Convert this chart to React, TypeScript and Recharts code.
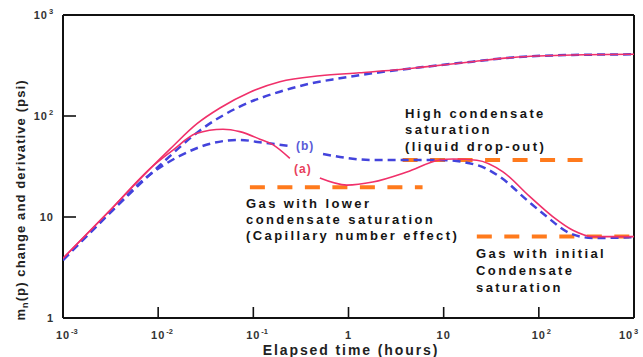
import { LineChart, Line, XAxis, YAxis, ReferenceLine } from "recharts";

// pressure change curves
const redChangeT = [0.001, 0.003, 0.0082, 0.0133, 0.0256, 0.0446, 0.092, 0.19, 0.5, 1.3, 3, 6, 20, 53, 228, 1000];
const redChangeV = [3.9, 11.2, 30, 47, 84, 120, 172, 218, 250, 268, 285, 305, 345, 380, 402, 408];
const blueChangeT = [0.001, 0.003, 0.0105, 0.0275, 0.072, 0.19, 0.4, 0.81, 1.8, 6, 20, 53, 228, 1000];
const blueChangeV = [3.75, 10.6, 32.7, 72, 124, 174, 210, 236, 265, 305, 345, 380, 402, 408];

// derivative curves (null = gap for the (a)/(b) labels)
const redDerivT = [0.001, 0.003, 0.0088, 0.0143, 0.025, 0.048, 0.072, 0.117, 0.16, 0.242, 0.35, 0.5, 0.96, 1.8, 4.1, 9.1, 12.5, 22.3, 42, 80, 140, 228, 369, 1000];
const redDerivV = [3.9, 11.2, 32, 46, 67, 74, 70, 59, 52, 38, null, 24.3, 20.7, 22.2, 27.9, 36.7, 37.5, 36.5, 28, 16, 10.1, 7.4, 6.4, 6.4];
const blueDerivT = [0.001, 0.003, 0.0076, 0.0158, 0.0377, 0.072, 0.117, 0.242, 0.37, 0.54, 1.8, 9.1, 22.3, 39, 75, 121, 212, 369, 1000];
const blueDerivV = [3.75, 10.6, 24.9, 39, 54, 58, 55, 50.5, null, 42, 36.7, 36.7, 32.7, 25, 14.7, 10.1, 6.9, 6.2, 6.3];

// orange saturation levels
const lowerSatT = [0.092, 6.0];
const lowerSatV = [19.7, 19.7];
const highSatT = [3.7, 319];
const highSatV = [36.7, 36.7];
const initialSatT = [22.3, 1000];
const initialSatV = [6.4, 6.4];

const xTicks = [0.001, 0.01, 0.1, 1, 10, 100, 1000];
const xTickLabels = [["10", "-3"], ["10", "-2"], ["10", "-1"], ["1", ""], ["10", ""], ["10", "2"], ["10", "3"]];
const yTicks = [1, 10, 100, 1000];
const yTickLabels = [["1", ""], ["10", ""], ["10", "2"], ["10", "3"]];

const zip = (ts: number[], vs: (number | null)[]) => ts.map((t, i) => ({ t, v: vs[i] }));

// plot box (matches the chart margins / axis sizes below)
const W = 643;
const H = 357;
const PLOT = { left: 63, right: 634, top: 15, bottom: 318 };
const px = (t: number) => PLOT.left + ((Math.log10(t) + 3) / 6) * (PLOT.right - PLOT.left);
const py = (v: number) => PLOT.bottom - (Math.log10(v) / 3) * (PLOT.bottom - PLOT.top);

const FONT = "'Liberation Sans', Arial, sans-serif";
const RED = "#f0306a";
const BLUE = "#4343dc";
const ORANGE = "#ff7a1c";
const FRAME = "#111";

function XTick(props: any) {
  const { x, y, payload } = props;
  const i = xTicks.indexOf(payload.value);
  const [base, sup] = xTickLabels[i] || [String(payload.value), ""];
  // the last label is pulled in so it stays on the page
  const cx = i === xTicks.length - 1 ? x - 8 : x;
  return (
    <g>
      <text x={cx} y={y + 21} textAnchor="middle" fontSize={11} fontWeight="bold" fill="#333" fontFamily={FONT} letterSpacing={1}>
        {base}
      </text>
      {sup && (
        <text x={cx + 8} y={y + 16} fontSize={7.5} fontWeight="bold" fill="#333" fontFamily={FONT}>
          {sup}
        </text>
      )}
    </g>
  );
}

function YTick(props: any) {
  const { x, y, payload } = props;
  const i = yTicks.indexOf(payload.value);
  const [base, sup] = yTickLabels[i] || [String(payload.value), ""];
  return (
    <g>
      <text x={sup ? x - 15 : x - 9} y={y + 4} textAnchor="end" fontSize={11} fontWeight="bold" fill="#333" fontFamily={FONT} letterSpacing={1}>
        {base}
      </text>
      {sup && (
        <text x={x - 14} y={y - 1} fontSize={7.5} fontWeight="bold" fill="#333" fontFamily={FONT}>
          {sup}
        </text>
      )}
    </g>
  );
}

const noteStyle = { fontSize: 13, fontWeight: "bold" as const, fill: "#151515", fontFamily: FONT, letterSpacing: 2.4 };

export default function App() {
  return (
    <div style={{ position: "absolute", left: 0, top: 0, width: W, height: H, background: "#fff" }}>
      <LineChart width={W} height={H} margin={{ top: PLOT.top, right: W - PLOT.right, bottom: 0, left: 0 }}>
        <XAxis
          dataKey="t"
          type="number"
          scale="log"
          domain={[0.001, 1000]}
          allowDataOverflow
          ticks={xTicks}
          interval={0}
          tick={<XTick />}
          tickLine={false}
          axisLine={false}
          tickSize={0}
          tickMargin={0}
          height={H - PLOT.bottom}
        />
        <YAxis
          dataKey="v"
          type="number"
          scale="log"
          domain={[1, 1000]}
          allowDataOverflow
          ticks={yTicks}
          interval={0}
          tick={<YTick />}
          tickLine={false}
          axisLine={false}
          tickSize={0}
          tickMargin={0}
          width={PLOT.left}
        />
        {/* frame */}
        <ReferenceLine x={0.001} stroke={FRAME} strokeWidth={2} ifOverflow="visible" />
        <ReferenceLine x={1000} stroke={FRAME} strokeWidth={2} ifOverflow="visible" />
        <ReferenceLine y={1} stroke={FRAME} strokeWidth={2} ifOverflow="visible" />
        <ReferenceLine y={1000} stroke={FRAME} strokeWidth={2} ifOverflow="visible" />
        <Line data={zip(lowerSatT, lowerSatV)} dataKey="v" stroke={ORANGE} strokeWidth={4} strokeDasharray="15 12.5" dot={false} isAnimationActive={false} />
        <Line data={zip(highSatT, highSatV)} dataKey="v" stroke={ORANGE} strokeWidth={4} strokeDasharray="15 12.5" dot={false} isAnimationActive={false} />
        <Line data={zip(initialSatT, initialSatV)} dataKey="v" stroke={ORANGE} strokeWidth={4} strokeDasharray="15 12.5" dot={false} isAnimationActive={false} />
        <Line data={zip(blueChangeT, blueChangeV)} dataKey="v" type="monotone" stroke={BLUE} strokeWidth={2.5} strokeDasharray="8 5" dot={false} isAnimationActive={false} />
        <Line data={zip(blueDerivT, blueDerivV)} dataKey="v" type="monotone" stroke={BLUE} strokeWidth={2.5} strokeDasharray="8 5" dot={false} isAnimationActive={false} />
        <Line data={zip(redChangeT, redChangeV)} dataKey="v" type="monotone" stroke={RED} strokeWidth={1.6} dot={false} isAnimationActive={false} />
        <Line data={zip(redDerivT, redDerivV)} dataKey="v" type="monotone" stroke={RED} strokeWidth={1.6} dot={false} isAnimationActive={false} />
      </LineChart>
      <svg width={W} height={H} style={{ position: "absolute", left: 0, top: 0, pointerEvents: "none" }}>
        {/* inward tick marks */}
        {xTicks.slice(1, -1).map((t) => (
          <line key={"xt" + t} x1={px(t)} x2={px(t)} y1={PLOT.bottom} y2={PLOT.bottom - 11} stroke={FRAME} strokeWidth={1.6} />
        ))}
        {yTicks.slice(1, -1).map((v) => (
          <line key={"yt" + v} x1={PLOT.left} x2={PLOT.left + 13} y1={py(v)} y2={py(v)} stroke={FRAME} strokeWidth={1.6} />
        ))}
        <text x={351} y={355} textAnchor="middle" fontSize={14} fontWeight="bold" fill="#222" fontFamily={FONT} letterSpacing={1.9}>
          Elapsed time (hours)
        </text>
        <text transform="translate(25,200) rotate(-90)" textAnchor="middle" fontSize={13} fontWeight="bold" fill="#222" fontFamily={FONT} letterSpacing={1.1}>
          m<tspan fontSize={9} dy={3}>n</tspan>
          <tspan dy={-3}>(p) change and derivative (psi)</tspan>
        </text>
        <text x={296} y={150} fontSize={12} fontWeight="bold" fill="#5a5ad8" fontFamily={FONT} letterSpacing={1}>(b)</text>
        <text x={294} y={173} fontSize={12} fontWeight="bold" fill="#e8405c" fontFamily={FONT} letterSpacing={1}>(a)</text>
        <text x={405} y={118} {...noteStyle}>High condensate</text>
        <text x={405} y={134} {...noteStyle}>saturation</text>
        <text x={405} y={151} {...noteStyle}>(liquid drop-out)</text>
        <text x={246} y={208} {...noteStyle}>Gas with lower</text>
        <text x={246} y={224} {...noteStyle}>condensate saturation</text>
        <text x={246} y={240} {...noteStyle}>(Capillary number effect)</text>
        <text x={476} y={258} {...noteStyle}>Gas with initial</text>
        <text x={476} y={275} {...noteStyle}>Condensate</text>
        <text x={476} y={292} {...noteStyle}>saturation</text>
      </svg>
    </div>
  );
}
